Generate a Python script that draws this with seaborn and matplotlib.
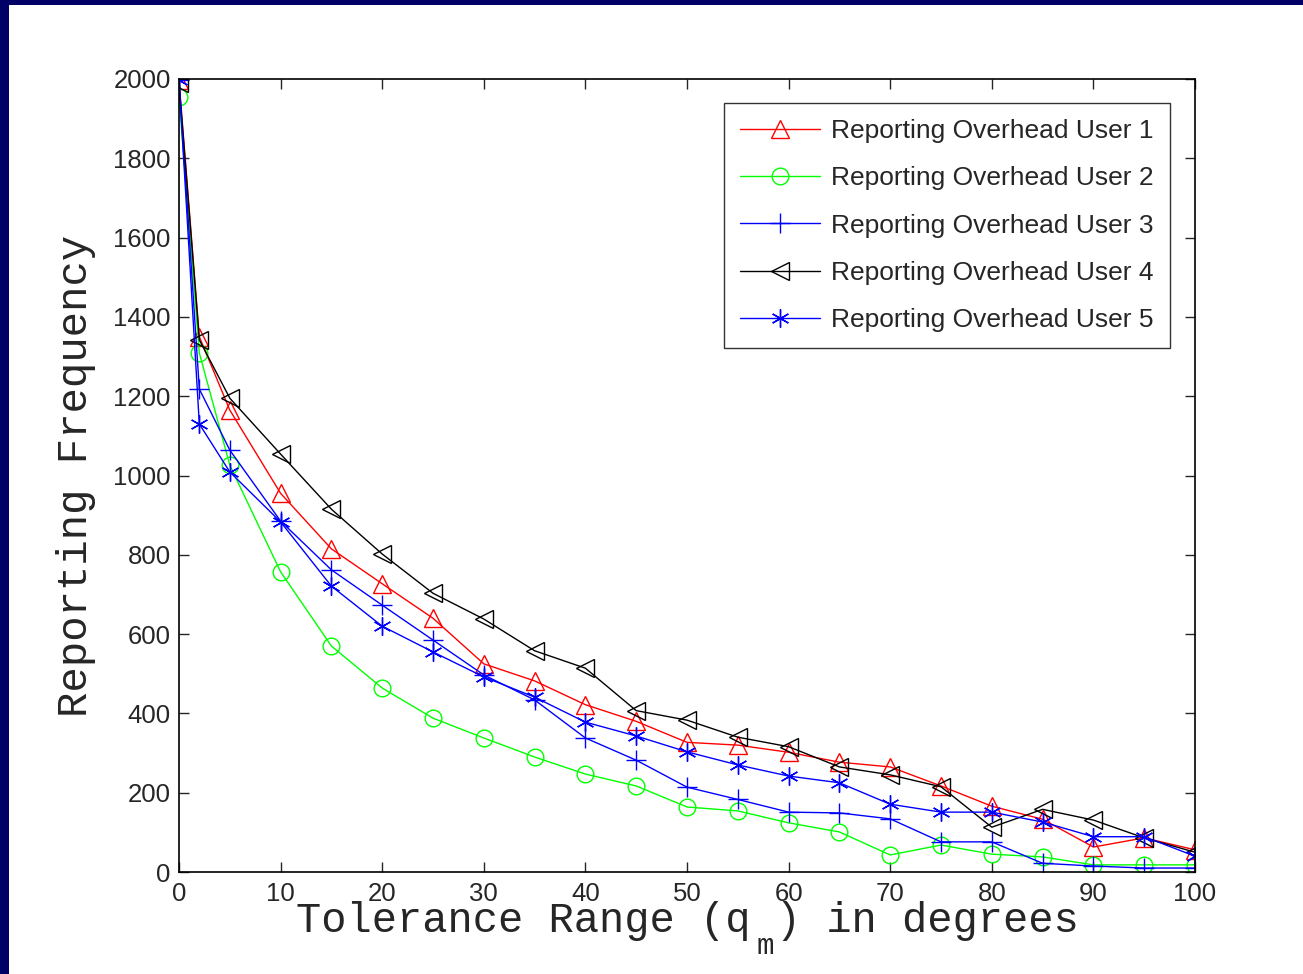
import matplotlib
matplotlib.use("Agg")
import matplotlib.pyplot as plt
from matplotlib.patches import Rectangle
import seaborn as sns
import pandas as pd

# tolerance values (degrees)
TOLERANCE = [0, 2, 5, 10, 15, 20, 25, 30, 35, 40, 45, 50, 55, 60, 65, 70, 75, 80, 85, 90, 95, 100]

USER1 = [1997, 1350, 1165, 955, 815, 727, 640, 525, 482, 422, 380, 327, 320, 302, 277, 265, 217, 166, 133, 63, 86, 56]
USER2 = [1955, 1309, 1026, 757, 570, 464, 388, 338, 290, 247, 217, 164, 154, 124, 101, 43, 68, 45, 38, 18, 18, 18]
USER3 = [1997, 1218, 1064, 885, 762, 673, 585, 497, 434, 338, 282, 214, 183, 151, 149, 134, 76, 76, 22, 15, 10, 10]
USER4 = [1990, 1342, 1195, 1054, 915, 802, 703, 638, 558, 514, 407, 383, 340, 316, 265, 245, 215, 113, 158, 131, 86, 50]
USER5 = [1997, 1130, 1009, 883, 721, 620, 555, 492, 441, 378, 343, 303, 270, 242, 225, 171, 151, 151, 126, 89, 89, 40]

LABELS = ["Reporting Overhead User %d" % i for i in range(1, 6)]
COLORS = ["#ff0000", "#00ff00", "#0000ff", "#000000", "#0000ff"]
MARKERS = ["^", "o", "+", "<", (6, 2, 0)]
MSIZES = [13, 12, 14, 13, 13]

sns.set_style("ticks")
plt.rcParams["font.family"] = ["Liberation Sans", "DejaVu Sans"]

fig = plt.figure(figsize=(13.03, 9.74), dpi=100, facecolor="#000066")
# white page inside the navy border
fig.patches.append(Rectangle((9 / 1303, 0), 1, 1 - 5 / 974, transform=fig.transFigure,
                             facecolor="white", edgecolor="none", zorder=-10))
ax = fig.add_axes([179 / 1303, 1 - 872 / 974, (1195 - 179) / 1303, (872 - 79) / 974])

series = [USER1, USER2, USER3, USER4, USER5]
for vals, lab, col, mk, ms in zip(series, LABELS, COLORS, MARKERS, MSIZES):
    df = pd.DataFrame({"tol": TOLERANCE, "freq": vals})
    sns.lineplot(data=df, x="tol", y="freq", ax=ax, color=col, marker=mk,
                 markersize=ms, markerfacecolor="none", markeredgecolor=col,
                 markeredgewidth=1.0, linewidth=1.0, label=lab, legend=False)

ax.set_xlim(0, 100)
ax.set_ylim(0, 2000)
ax.set_xticks(range(0, 101, 10))
ax.set_yticks(range(0, 2001, 200))
ax.tick_params(direction="in", top=True, right=True, length=7, width=1,
               labelsize=18.5)
ax.tick_params(axis="x", pad=7)
ax.tick_params(axis="y", pad=6)
for sp in ax.spines.values():
    sp.set_linewidth(1.2)
    sp.set_color("black")

# x label with the symbol subscript hanging below, as in the source figure
ax.set_xlabel("Tolerance Range (q ) in degrees", family="Liberation Mono", fontsize=30.3)
ax.xaxis.set_label_coords(0.5, -0.036)
ax.text(0.577, -0.093, "m", transform=ax.transAxes, family="Liberation Mono",
        fontsize=21, ha="center", va="center")
ax.set_ylabel("Reporting Frequency", family="Liberation Mono", fontsize=30.5)
ax.yaxis.set_label_coords(-0.082, 0.5)

leg = ax.legend(loc="upper right", bbox_to_anchor=(0.975, 0.97), borderaxespad=0,
                fontsize=19, fancybox=False, frameon=True, handlelength=3.0,
                labelspacing=0.88, borderpad=0.62, handletextpad=0.42)
leg.get_frame().set_edgecolor("black")
leg.get_frame().set_linewidth(1.0)

fig.savefig("out.png", dpi=100, facecolor=fig.get_facecolor())
